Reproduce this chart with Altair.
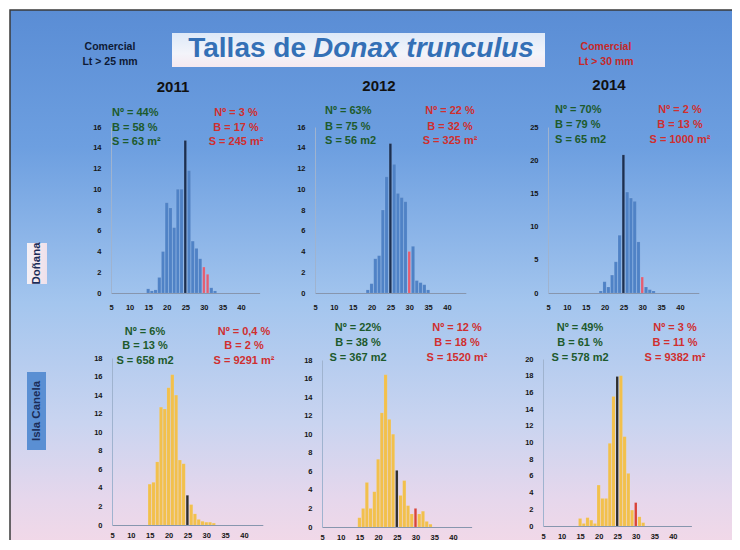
import altair as alt
import pandas as pd

W, H = 724, 532
FONT = "Liberation Sans"

# ------------------------------------------------------------------ data
years = ["2011", "2012", "2014"]
sites = ["Doñana", "Isla Canela"]

don11_len = [15, 16, 17, 18, 19, 20, 21, 22, 23, 24, 25, 26, 27, 28, 29, 30, 31, 32, 33]
don11_freq = [0.4, 0.2, 0.3, 1.5, 4.0, 8.7, 8.2, 6.3, 10.0, 10.0, 14.7, 11.8, 5.0, 4.3, 3.3, 2.5, 1.8, 0.5, 0.2]

don12_len = [19, 20, 21, 22, 23, 24, 25, 26, 27, 28, 29, 30, 31, 32, 33, 34, 35]
don12_freq = [0.3, 0.9, 3.3, 3.6, 8.0, 11.2, 14.4, 12.4, 9.6, 9.2, 8.8, 4.0, 4.5, 1.2, 1.0, 0.8, 0.3]

don14_len = [19, 20, 21, 22, 23, 24, 25, 26, 27, 28, 29, 30, 31, 32, 33]
don14_freq = [0.3, 1.7, 0.9, 2.7, 4.7, 8.7, 20.8, 15.2, 14.3, 13.8, 7.7, 2.4, 0.9, 0.5, 0.3]

isla11_len = [15, 16, 17, 18, 19, 20, 21, 22, 23, 24, 25, 26, 27, 28, 29, 30, 31, 32]
isla11_freq = [4.4, 4.6, 6.8, 12.7, 12.5, 14.8, 16.2, 14.0, 7.0, 6.6, 3.2, 2.2, 1.2, 0.6, 0.4, 0.3, 0.3, 0.2]

isla12_len = [15, 16, 17, 18, 19, 20, 21, 22, 23, 24, 25, 26, 27, 28, 29, 30, 31, 32, 33, 34]
isla12_freq = [1.0, 2.0, 4.8, 2.0, 3.8, 7.3, 12.3, 16.4, 11.6, 10.0, 6.1, 3.4, 5.0, 2.3, 1.4, 2.0, 1.4, 1.7, 0.6, 0.3]

isla14_len = [15, 16, 17, 18, 19, 20, 21, 22, 23, 24, 25, 26, 27, 28, 29, 30, 31, 32]
isla14_freq = [0.9, 0.3, 1.0, 0.7, 0.3, 4.9, 3.3, 3.3, 9.9, 15.5, 17.9, 18.0, 10.7, 6.3, 1.9, 2.8, 1.1, 0.4]

# commercial size thresholds marked in the bars
dark_len = [25, 25, 25, 25, 25, 25]
red_len = [[30, 31], [30], [30], [], [30], [30]]

x_ticks = [5, 10, 15, 20, 25, 30, 35, 40]
y_max = [16, 16, 25, 18, 18, 20]
y_ticks = [
    [0, 2, 4, 6, 8, 10, 12, 14, 16],
    [0, 2, 4, 6, 8, 10, 12, 14, 16],
    [0, 5, 10, 15, 20, 25],
    [0, 2, 4, 6, 8, 10, 12, 14, 16, 18],
    [0, 2, 4, 6, 8, 10, 12, 14, 16, 18],
    [0, 2, 4, 6, 8, 10, 12, 14, 16, 18, 20],
]

green_txt = [
    ["Nº = 44%", "B = 58 %", "S = 63 m²"],
    ["Nº = 63%", "B = 75 %", "S = 56 m2"],
    ["Nº = 70%", "B = 79 %", "S = 65 m2"],
    ["Nº = 6%", "B = 13 %", "S = 658 m2"],
    ["Nº = 22%", "B = 38 %", "S = 367 m2"],
    ["Nº = 49%", "B = 61 %", "S = 578 m2"],
]
red_txt = [
    ["Nº = 3 %", "B = 17 %", "S = 245 m²"],
    ["Nº = 22 %", "B = 32 %", "S = 325 m²"],
    ["Nº = 2 %", "B = 13 %", "S = 1000 m²"],
    ["Nº = 0,4 %", "B = 2 %", "S = 9291 m²"],
    ["Nº = 12 %", "B = 18 %", "S = 1520 m²"],
    ["Nº = 3 %", "B = 11 %", "S = 9382 m²"],
]

title_a = "Tallas de"
title_b = "Donax trunculus"
left_note = ["Comercial", "Lt > 25 mm"]
right_note = ["Comercial", "Lt > 30 mm"]

series = [
    (don11_len, don11_freq), (don12_len, don12_freq), (don14_len, don14_freq),
    (isla11_len, isla11_freq), (isla12_len, isla12_freq), (isla14_len, isla14_freq),
]

# ------------------------------------------------------------------ layout (pixels, chart coords)
x_range = [[103, 251.6], [307, 457.8], [540, 690.8], [104, 254.8], [314, 463.6], [535, 683.4]]
y_range = [[285, 119], [285, 119], [285, 119], [517, 350], [519, 352], [518, 351]]
green_x = [104, 317, 547, 137, 350, 572]
green_align = ["left", "left", "left", "center", "center", "center"]
red_x = [228, 442, 672, 236, 449, 667]
text_y = [[105, 120, 134], [103, 119, 133], [102, 117, 132],
          [324, 338, 353], [320, 335, 350], [320, 335, 350]]
x_label_pad = [10, 10, 10, 6, 6, 6]

site_colors = {
    "Doñana": ["#4f82c6", "#1c2f50", "#e35d72"],
    "Isla Canela": ["#f2c04c", "#2e2e2e", "#d8433a"],
}

one = pd.DataFrame({"k": [0]})
layers = []

# slide background with gradient
bg_grad = alt.Gradient(
    gradient="linear", x1=0, x2=0, y1=0, y2=1,
    stops=[
        alt.GradientStop(color="#5a8dd5", offset=0.0),
        alt.GradientStop(color="#6d9fe0", offset=0.25),
        alt.GradientStop(color="#a3c5ee", offset=0.53),
        alt.GradientStop(color="#c9d4f0", offset=0.75),
        alt.GradientStop(color="#e6d7ec", offset=0.89),
        alt.GradientStop(color="#f6d9e6", offset=1.0),
    ],
)
layers.append(
    alt.Chart(one).mark_rect(fill=bg_grad, stroke="#3a3a3a", strokeWidth=1.5).encode(
        x=alt.value(2), x2=alt.value(W + 10), y=alt.value(2), y2=alt.value(H + 20)
    )
)

# title box
title_grad = alt.Gradient(
    gradient="linear", x1=0, x2=0, y1=0, y2=1,
    stops=[
        alt.GradientStop(color="#dde9f8", offset=0.0),
        alt.GradientStop(color="#f3f4fa", offset=0.6),
        alt.GradientStop(color="#f6e9f0", offset=1.0),
    ],
)
layers.append(
    alt.Chart(one).mark_rect(fill=title_grad).encode(
        x=alt.value(164), x2=alt.value(537), y=alt.value(25), y2=alt.value(59)
    )
)
layers.append(
    alt.Chart(one).mark_text(font=FONT, fontSize=28, fontWeight="bold", color="#3470b6",
                             align="right", baseline="middle").encode(
        x=alt.value(298), y=alt.value(41), text=alt.value(title_a))
)
layers.append(
    alt.Chart(one).mark_text(font=FONT, fontSize=28, fontWeight="bold", fontStyle="italic",
                             color="#3470b6", align="left", baseline="middle").encode(
        x=alt.value(305), y=alt.value(41), text=alt.value(title_b))
)

# commercial notes
for i, t in enumerate(left_note):
    layers.append(
        alt.Chart(one).mark_text(font=FONT, fontSize=10.5, fontWeight="bold", color="#0e1a35",
                                 align="center", baseline="middle").encode(
            x=alt.value(102), y=alt.value(39 + 15 * i), text=alt.value(t))
    )
for i, t in enumerate(right_note):
    layers.append(
        alt.Chart(one).mark_text(font=FONT, fontSize=10.5, fontWeight="bold", color="#c62828",
                                 align="center", baseline="middle").encode(
            x=alt.value(598), y=alt.value(39 + 15 * i), text=alt.value(t))
    )

# year headers
for yr, xx, yy in zip(years, [165, 371, 601], [79, 78, 77]):
    layers.append(
        alt.Chart(one).mark_text(font=FONT, fontSize=15, fontWeight="bold", color="#111111",
                                 align="center", baseline="middle").encode(
            x=alt.value(xx), y=alt.value(yy), text=alt.value(yr))
    )

# site labels (vertical, boxed)
don_grad = alt.Gradient(
    gradient="linear", x1=0, x2=1, y1=0, y2=0,
    stops=[alt.GradientStop(color="#f4f0f6", offset=0.0),
           alt.GradientStop(color="#efe0ea", offset=1.0)],
)
layers.append(alt.Chart(one).mark_rect(fill=don_grad).encode(
    x=alt.value(19), x2=alt.value(39), y=alt.value(235), y2=alt.value(276)))
layers.append(alt.Chart(one).mark_rect(fill="#5a8fd3").encode(
    x=alt.value(19), x2=alt.value(38), y=alt.value(364), y2=alt.value(442)))
for s, xx, yy in zip(sites, [29, 28.5], [255.5, 403]):
    layers.append(
        alt.Chart(one).mark_text(font=FONT, fontSize=11.5, fontWeight="bold", color="#1b2c58",
                                 align="center", baseline="middle", angle=270).encode(
            x=alt.value(xx), y=alt.value(yy), text=alt.value(s))
    )

# histogram panels
for i, (lens, freqs) in enumerate(series):
    site = sites[0] if i < 3 else sites[1]
    kinds = []
    for L in lens:
        if L == dark_len[i]:
            kinds.append("dark")
        elif L in red_len[i]:
            kinds.append("red")
        else:
            kinds.append("base")
    df = pd.DataFrame({"len": lens, "freq": freqs, "kind": kinds})
    x0, x1 = x_range[i]
    yb, yt = y_range[i]
    bars = alt.Chart(df).transform_calculate(
        xa="datum.len - (datum.kind == 'base' ? 0.43 : 0.33)",
        xb="datum.len + (datum.kind == 'base' ? 0.43 : 0.33)",
    ).mark_bar(stroke="#ffffff", strokeOpacity=0.18, strokeWidth=0.4).encode(
        x=alt.X("xa:Q",
                scale=alt.Scale(domain=[5, 45], range=[x0, x1], nice=False, zero=False),
                axis=alt.Axis(orient="bottom", offset=yb - H, values=x_ticks, title=None,
                              grid=False, ticks=False, labelFlush=False, labelOverlap=False,
                              labelPadding=x_label_pad[i], labelFont=FONT, labelFontSize=7.5,
                              labelFontWeight="bold", labelColor="#151515",
                              domainColor="#8796ae", domainWidth=1.2, zindex=1)),
        x2="xb:Q",
        y=alt.Y("freq:Q",
                scale=alt.Scale(domain=[0, y_max[i]], range=[yb, yt], nice=False),
                axis=alt.Axis(orient="left", offset=-x0, values=y_ticks[i], title=None,
                              grid=False, ticks=False, labelOverlap=False, labelPadding=10,
                              labelFont=FONT, labelFontSize=7.5, labelFontWeight="bold",
                              labelColor="#151515", domainColor="#9fb3cf", domainWidth=1,
                              zindex=1)),
        y2=alt.datum(0),
        color=alt.Color("kind:N",
                        scale=alt.Scale(domain=["base", "dark", "red"], range=site_colors[site]),
                        legend=None),
    )
    layers.append(bars)

    for j in range(3):
        layers.append(
            alt.Chart(one).mark_text(font=FONT, fontSize=11, fontWeight="bold", color="#1d5a2c",
                                     align=green_align[i], baseline="middle").encode(
                x=alt.value(green_x[i]), y=alt.value(text_y[i][j]), text=alt.value(green_txt[i][j]))
        )
        layers.append(
            alt.Chart(one).mark_text(font=FONT, fontSize=11, fontWeight="bold", color="#d02f2f",
                                     align="center", baseline="middle").encode(
                x=alt.value(red_x[i]), y=alt.value(text_y[i][j]), text=alt.value(red_txt[i][j]))
        )

chart = alt.layer(*layers).resolve_scale(
    x="independent", y="independent", color="independent"
).properties(
    width=W, height=H, padding=0, autosize=alt.AutoSizeParams(type="none"),
    background="#ffffff",
).configure_view(strokeWidth=0)

chart.save("out.html", embed_options={"renderer": "svg", "actions": False})
